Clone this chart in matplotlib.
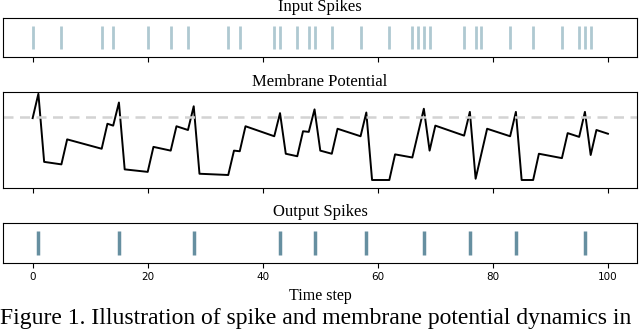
import numpy as np
import matplotlib
matplotlib.use("Agg")
import matplotlib.pyplot as plt

# spike times
input_spikes = [0, 5, 12, 14, 20, 24, 27, 34, 36, 42, 43, 46, 48, 49, 52, 57, 62,
                66, 67, 68, 69, 75, 77, 78, 83, 87, 92, 95, 96, 97]
output_spikes = [1, 15, 28, 43, 49, 58, 68, 76, 84, 96]

# membrane potential vertices (threshold = 1.0)
mem_t = [0, 1, 2, 5, 6, 12, 13, 14, 15, 16, 20, 21, 24, 25, 27, 28, 29, 34, 35, 36,
         37, 42, 43, 44, 46, 47, 48, 49, 50, 52, 53, 57, 58, 59, 62, 63, 66, 68, 69,
         70, 75, 76, 77, 79, 83, 84, 85, 87, 88, 92, 93, 95, 96, 97, 98, 100]
mem_v = [0.99, 1.38, 0.29, 0.25, 0.65, 0.50, 0.90, 0.87, 1.24, 0.17, 0.13, 0.53, 0.47,
         0.86, 0.80, 1.18, 0.10, 0.08, 0.47, 0.46, 0.86, 0.70, 1.07, 0.42, 0.38, 0.78,
         0.77, 1.13, 0.47, 0.42, 0.82, 0.70, 1.08, 0.00, 0.00, 0.41, 0.36, 1.14, 0.47,
         0.87, 0.71, 1.09, 0.02, 0.82, 0.70, 1.09, 0.00, 0.00, 0.42, 0.35, 0.75, 0.69,
         1.09, 0.40, 0.80, 0.74]
threshold = 1.0

serif = "Liberation Serif"
W, H = 640, 331

def box(left, top, right, bottom):
    return [left / W, 1 - bottom / H, (right - left) / W, (bottom - top) / H]

fig = plt.figure(figsize=(6.4, 3.31), dpi=100)
ax1 = fig.add_axes(box(3.3, 18.3, 636.7, 56.7))
ax2 = fig.add_axes(box(3.3, 92.5, 636.7, 187.5))
ax3 = fig.add_axes(box(3.3, 223.3, 636.7, 263.3))

# Input spikes
ax1.vlines(input_spikes, 0.2, 0.8, color="#afc9d1", lw=2.0)
ax1.set_ylim(0, 1)
ax1.set_title("Input Spikes", fontfamily=serif, fontsize=12, pad=5)

# Membrane potential
ax2.plot(mem_t, mem_v, color="black", lw=1.4)
ax2.axhline(threshold, color="#d3d3d3", lw=1.8, ls=(0, (4, 2.6)))
ax2.set_ylim(-0.12, 1.40)
ax2.set_title("Membrane Potential", fontfamily=serif, fontsize=12, pad=5)

# Output spikes
ax3.vlines(output_spikes, 0.2, 0.8, color="#668fa0", lw=2.5)
ax3.set_ylim(0, 1)
ax3.set_title("Output Spikes", fontfamily=serif, fontsize=12, pad=5)
ax3.set_xlabel("Time step", fontfamily=serif, fontsize=11.5, labelpad=4)

for ax in (ax1, ax2, ax3):
    ax.set_xlim(-5.1, 105)
    ax.set_xticks([0, 20, 40, 60, 80, 100])
    ax.set_yticks([])
    ax.tick_params(axis="x", length=3.5, width=0.8, labelsize=7.5, pad=3)
    for s in ax.spines.values():
        s.set_linewidth(0.8)
ax1.tick_params(labelbottom=False)
ax2.tick_params(labelbottom=False)

fig.text(0.0, 1 - 324 / H, "Figure 1. Illustration of spike and membrane potential dynamics in",
         fontfamily=serif, fontsize=17, ha="left", va="baseline")

fig.savefig("out.png", dpi=100)
